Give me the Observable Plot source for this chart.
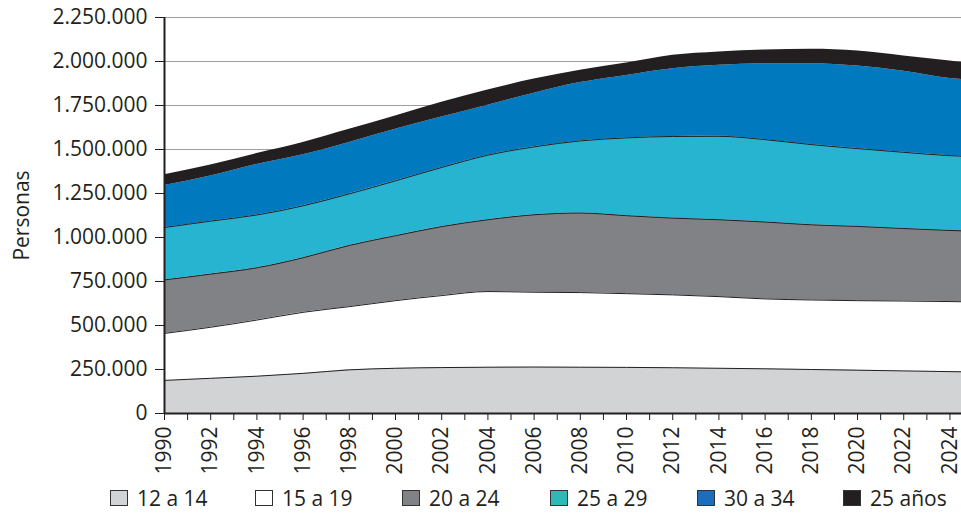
<!DOCTYPE html>
<html><head><meta charset="utf-8">
<script src="https://cdn.jsdelivr.net/npm/d3@7"></script>
<script src="https://cdn.jsdelivr.net/npm/@observablehq/plot@0.6"></script>
<style>
body{margin:0;background:#fff;font-family:"Open Sans",sans-serif;color:#231f20}
#chart{position:relative;width:961px;height:513px;overflow:hidden}
#legend{position:absolute;top:484px;left:0;width:961px;height:28px}
.item{position:absolute;top:0;display:flex;align-items:center;font-size:21px;line-height:28px;height:28px;white-space:nowrap}
.sw{width:18px;height:16px;border:1px solid #333;box-sizing:border-box;margin-right:9px}
</style></head><body><div id="chart"></div>
<script>
const years = [1990,1992,1994,1996,1998,2000,2002,2004,2006,2008,2010,2012,2014,2016,2018,2020,2022,2024,2025];
const seriesNames = ["12 a 14","15 a 19","20 a 24","25 a 29","30 a 34","25 años"];
const v12a14 = [188,200,212,228,248,257,261,263,264,263,262,260,257,254,250,246,242,238,236];
const v15a19 = [267,290,319,347,359,384,409,430,425,424,419,414,407,397,395,395,397,398,398];
const v20a24 = [304,302,297,310,348,369,392,408,440,452,443,436,437,437,427,422,412,404,402];
const v25a29 = [298,301,300,295,293,312,336,367,386,410,442,464,474,468,456,442,433,425,424];
const v30a34 = [238,256,287,290,292,293,286,284,305,331,355,385,403,431,459,469,461,439,433];
const v25anos = [62,63,62,70,75,75,84,86,80,70,70,76,76,78,82,85,86,99,95];
const areaColors = ["#d1d3d4","#ffffff","#808285","#27b4d1","#0079bf","#231f20"];
const swatchColors = ["#d1d3d4","#ffffff","#808285","#2bbab4","#1c6dbb","#231f20"];
const yTicks = [0,250000,500000,750000,1000000,1250000,1500000,1750000,2000000,2250000];
const allYears = d3.range(1990, 2025);

const seriesValues = [v12a14,v15a19,v20a24,v25a29,v30a34,v25anos];
const rows = years.flatMap((yr,i) => seriesNames.map((s,j) => ({year: yr, serie: s, value: seriesValues[j][i]*1000})));
const fmt = d3.formatLocale({decimal: ",", thousands: ".", grouping: [3], currency: ["",""]}).format(",");
const curve = "monotone-x";
const ink = "#231f20";
const edged = ["12 a 14","15 a 19","20 a 24","25 a 29"];

const plot = Plot.plot({
  width: 961,
  height: 475,
  marginLeft: 164,
  marginRight: 0,
  marginTop: 17,
  marginBottom: 62,
  style: {fontFamily: "Open Sans, sans-serif", fontSize: "21px", color: ink, background: "#fff"},
  x: {domain: [1990, 2024.5]},
  y: {domain: [0, 2250000]},
  color: {domain: seriesNames, range: areaColors},
  marks: [
    Plot.gridY(yTicks, {stroke: "#9d9fa2", strokeOpacity: 1, strokeWidth: 1.2}),
    Plot.areaY(rows, Plot.stackY({x: "year", y: "value", z: "serie", fill: "serie", order: seriesNames, curve, clip: true})),
    Plot.lineY(rows, Plot.stackY2({x: "year", y: "value", z: "serie", order: seriesNames, curve, stroke: ink, strokeWidth: 1, clip: true,
      filter: d => edged.includes(d.serie)})),
    Plot.axisY({ticks: yTicks, tickFormat: fmt, tickSize: 9, tickPadding: 8, stroke: ink, fill: ink,
      label: "Personas", labelAnchor: "center", labelArrow: "none", labelOffset: 150}),
    Plot.axisX({ticks: allYears, tickSize: 7, tickPadding: 6, tickRotate: -90, stroke: ink, fill: ink,
      tickFormat: d => d % 2 === 0 ? String(d) : "", label: null}),
    Plot.ruleX([1990], {stroke: ink, strokeWidth: 2}),
    Plot.ruleY([0], {stroke: ink, strokeWidth: 2})
  ]
});
const chart = document.getElementById("chart");
chart.appendChild(plot);

const legend = document.createElement("div");
legend.id = "legend";
const lefts = [110, 255, 402, 550, 697, 843];
seriesNames.forEach((s, i) => {
  const it = document.createElement("div");
  it.className = "item";
  it.style.left = lefts[i] + "px";
  const sw = document.createElement("span");
  sw.className = "sw";
  sw.style.background = swatchColors[i];
  const tx = document.createElement("span");
  tx.textContent = s;
  it.appendChild(sw); it.appendChild(tx);
  legend.appendChild(it);
});
chart.appendChild(legend);
</script></body></html>
